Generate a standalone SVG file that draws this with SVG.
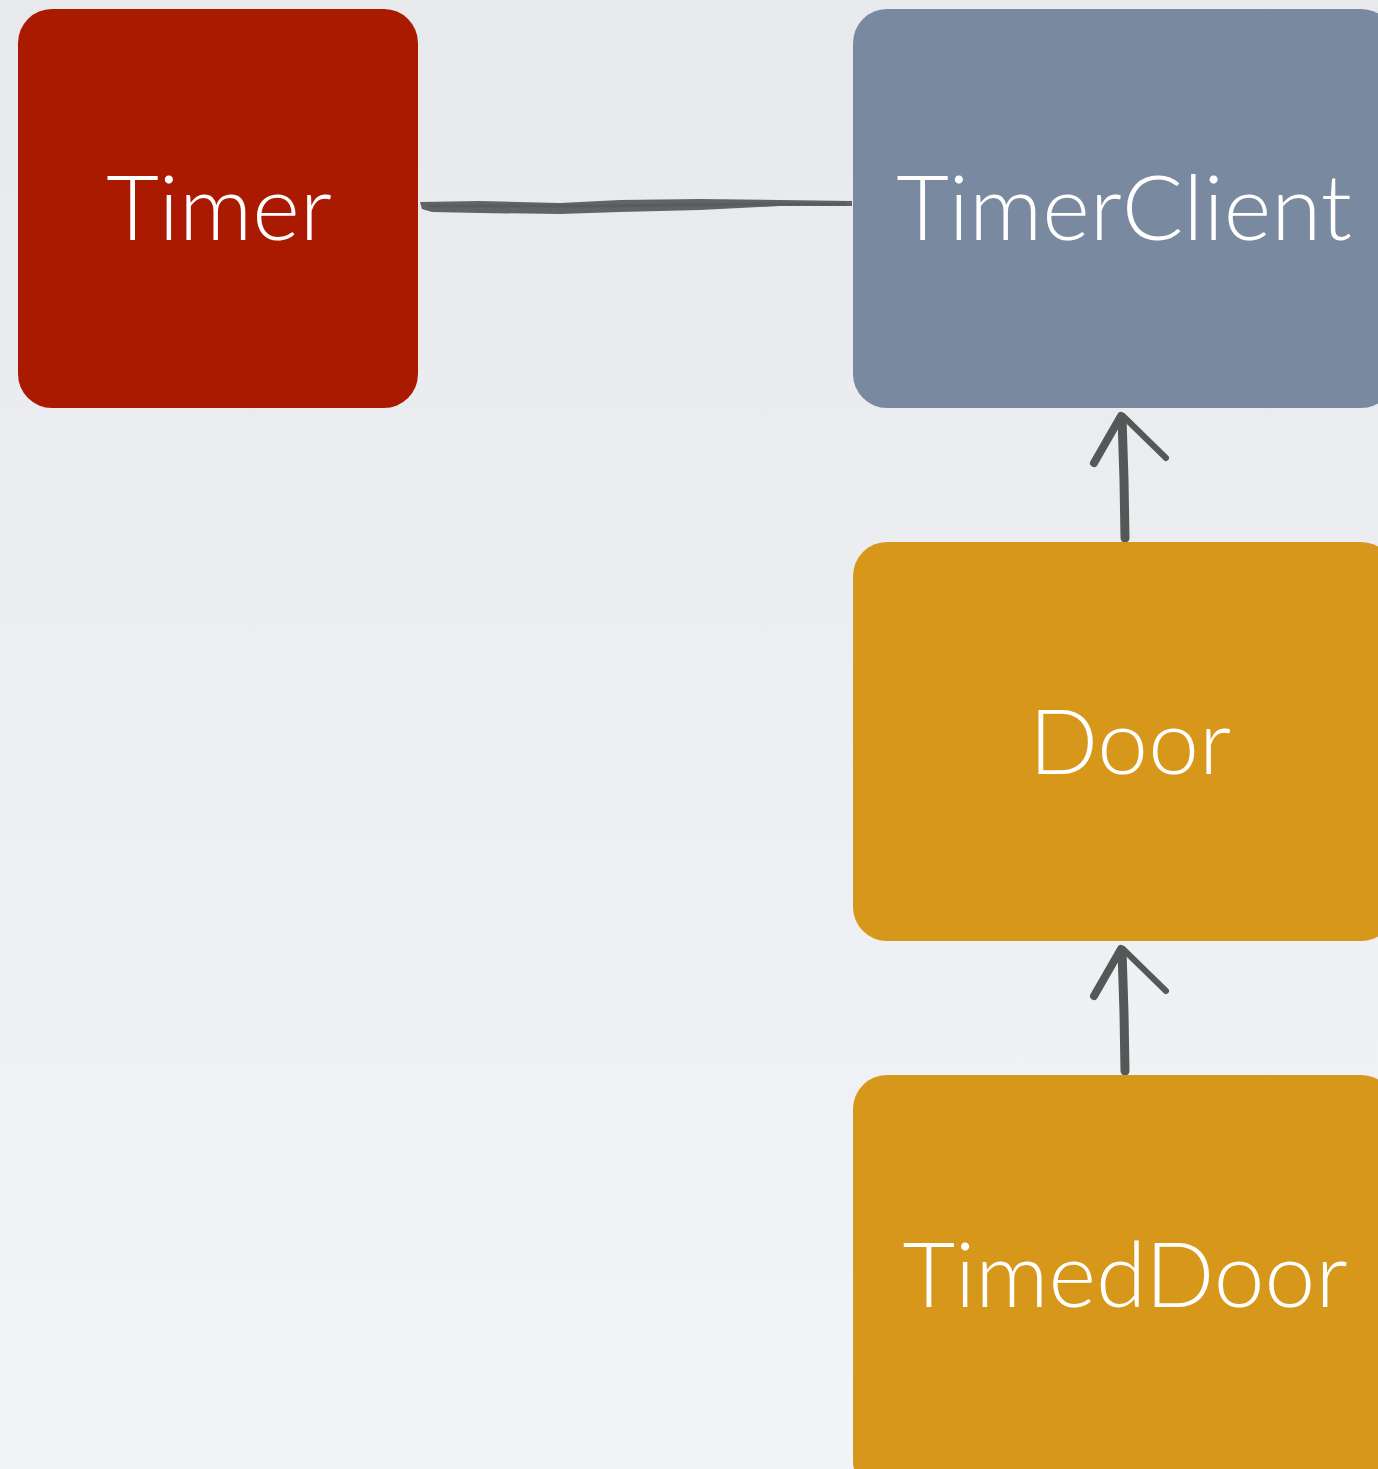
<svg xmlns="http://www.w3.org/2000/svg" width="1378" height="1469" viewBox="0 0 1378 1469">
<defs>
<linearGradient id="bg" x1="0" y1="0" x2="0" y2="1">
<stop offset="0" stop-color="#e7e9ed"/>
<stop offset="1" stop-color="#f3f4f7"/>
</linearGradient>
<style>
.box{stroke:none}
.lbl{font-family:"Lato","Open Sans","Liberation Sans",sans-serif;font-weight:300;font-size:91px;fill:#ffffff;text-anchor:middle}
.brush{fill:none;stroke:#545957;stroke-linecap:round;stroke-linejoin:round}
.ink{fill:#545957}
</style>
</defs>
<rect width="1378" height="1469" fill="url(#bg)"/>
<g id="connectors">
<g id="assoc">
<path class="ink" d="M420 202 L480 201 L560 203 L620 200 L700 199 L780 200 L852 201 L852 206 L780 206 L700 210 L620 212 L560 214 L480 213 L432 212 L422 209 Z" opacity="0.92"/>
<path class="brush" d="M430 206 L600 206 L760 204 L845 204" stroke-width="3" opacity="0.6"/>
</g>
<g id="inherit1">
<path class="brush" d="M1125 538 L1124 480 L1122 418" stroke-width="9"/>
<path class="brush" d="M1121 416 L1094 463" stroke-width="8"/>
<path class="brush" d="M1123 416 L1166 458" stroke-width="6"/>
</g>
<g id="inherit2">
<path class="brush" d="M1125 1071 L1124 1013 L1122 951" stroke-width="9"/>
<path class="brush" d="M1121 949 L1094 996" stroke-width="8"/>
<path class="brush" d="M1123 949 L1166 991" stroke-width="6"/>
</g>
</g>
<g id="timer">
<rect class="box" x="18" y="9" width="400" height="399" rx="34" fill="#a91a00"/>
<text class="lbl" x="219" y="240">Timer</text>
</g>
<g id="timerclient">
<rect class="box" x="853" y="9" width="542" height="399" rx="34" fill="#7889a0"/>
<text class="lbl" x="1124" y="240">TimerClient</text>
</g>
<g id="door">
<rect class="box" x="853" y="542" width="542" height="399" rx="34" fill="#d7971b"/>
<text class="lbl" x="1130" y="774">Door</text>
</g>
<g id="timeddoor">
<rect class="box" x="853" y="1075" width="542" height="420" rx="34" fill="#d7971b"/>
<text class="lbl" x="1125" y="1307">TimedDoor</text>
</g>
</svg>
